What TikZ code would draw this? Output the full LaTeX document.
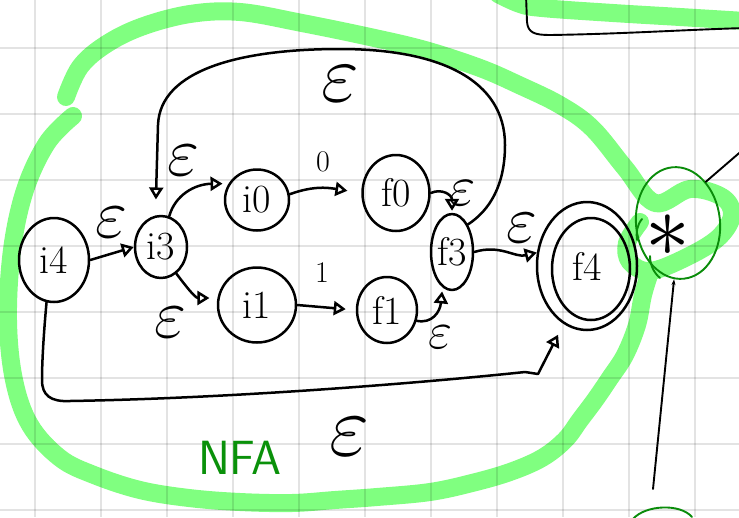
\documentclass[tikz,border=0pt]{standalone}
\usetikzlibrary{arrows.meta,shapes.geometric}
\definecolor{hlgreen}{RGB}{128,255,128}
\definecolor{penGreen}{RGB}{10,145,10}
\definecolor{ringGreen}{RGB}{10,140,10}

\begin{document}
\begin{tikzpicture}[x=1pt,y=-1pt,
  ink/.style={line width=2.5pt, black, line cap=round, line join=round},
  state/.style={ellipse, draw, ink, inner sep=0pt, font=\fontsize{40}{40}\selectfont},
  arr/.style={ink, -{Triangle[open, length=12pt, width=14pt]}},
  eps/.style={inner sep=0pt, font=\Huge},
  lbl/.style={inner sep=0pt, font=\fontsize{30}{30}\selectfont},
  hl/.style={line width=18pt, hlgreen, line cap=round, line join=round},
  gridline/.style={line width=1.5pt, black, opacity=0.11},
  pen/.style={line width=1.9pt, ringGreen, line cap=round, line join=round},
]
\useasboundingbox (0,0) rectangle (739,517);
\fill[white] (0,0) rectangle (739,517);
\begin{scope}
\clip (0,0) rectangle (739,517);

% highlighter strokes
\draw[hl] plot[smooth, tension=0.6] coordinates {(66,97) (80,67) (105,45) (141,27) (190,14) (240,12) (302,23) (370,37) (425,50) (480,68) (519,85) (560,105) (592,128) (625,168) (655,203) (690,189) (722,197) (732,215) (718,238) (685,258) (650,271) (630,262) (627,243) (640,222)};
\draw[hl] plot[smooth, tension=0.6] coordinates {(73,116) (47,143) (25,190) (12,250) (8,320) (14,380) (30,425) (60,458) (94,475) (140,490) (189,498) (240,502) (292,503) (335,500) (377,497) (430,492) (472,483) (510,472) (542,458) (565,440) (580,420) (595,400) (610,378) (625,355) (637,325) (643,295) (650,272)};
\draw[hl] plot[smooth, tension=0.6] coordinates {(498,-6) (520,4) (542,8) (613,13) (680,17) (745,21)};

% squared paper
\foreach \gx in {35,101,167,233,299,365,431,497,563,629,695}
  \draw[gridline] (\gx,0) -- (\gx,517);
\foreach \gy in {48,114,180,246,312,378,444,510}
  \draw[gridline] (0,\gy) -- (739,\gy);

% states
\node[state, minimum width=70pt, minimum height=84pt] (i4) at (54,260) {i4};
\node[state, minimum width=52pt, minimum height=62pt, inner xsep=-3pt] (i3) at (161,247) {i3};
\node[state, minimum width=64pt, minimum height=61pt] (i0) at (257,200) {i0};
\node[state, minimum width=78pt, minimum height=75pt] (i1) at (257,305) {i1};
\node[state, minimum width=67pt, minimum height=76pt] (f0) at (396,193) {f0};
\node[state, minimum width=60pt, minimum height=66pt] (f1) at (387,310) {f1};
\node[state, minimum width=42pt, minimum height=76pt, inner xsep=-5pt] (f3) at (452,252) {f3};
\node[state, minimum width=100pt, minimum height=128pt] (f4) at (587,266) {f4};
\node[ellipse, draw, ink, minimum width=78pt, minimum height=102pt] (f4in) at (591,269) {};

% transitions
\draw[arr] (i4.east) -- (i3.west);
\draw[arr, shorten >=6pt] (i3.75) .. controls (175,195) and (195,184) .. (i0.150);
\draw[arr, shorten >=8pt] (i3.-60) .. controls (185,285) and (195,298) .. (i1.170);
\draw[arr, shorten >=14pt] (i0.10) .. controls (315,185) and (330,188) .. (f0.180);
\draw[arr, shorten >=10pt] (i1.east) -- (f1.west);
\draw[arr, shorten >=2pt] (f0.east) .. controls (442,188) and (452,195) .. (f3.north);
\draw[arr, shorten >=4pt] (f1.-20) .. controls (432,324) and (440,312) .. (f3.-105);
\draw[arr] (f3.east) .. controls (500,244) and (515,258) .. (f4.165);
\draw[arr, shorten >=16pt] (f3.60) .. controls (490,210) and (505,185) .. (505,145)
  .. controls (505,80) and (440,49) .. (340,49)
  .. controls (240,49) and (160,70) .. (158,125) -- (i3.100);
\draw[arr, shorten >=12pt] (i4.-100) .. controls (44,330) and (42,360) .. (42,380)
  .. controls (42,395) and (50,402) .. (70,401)
  .. controls (250,398) and (450,380) .. (525,372) -- (538,374) -- (f4.-112);

% transition labels
\node[eps, scale=3.3] (eTop) at (340,84) {$\varepsilon$};
\node[eps, scale=2.8] (eA) at (111,222) {$\varepsilon$};
\node[eps, scale=2.8] (eB) at (183,160) {$\varepsilon$};
\node[eps, scale=2.8] (eC) at (170,322) {$\varepsilon$};
\node[lbl] (lZero) at (323,162) {0};
\node[lbl] (lOne) at (322,273) {1};
\node[eps, scale=2.3] (eD) at (463,193) {$\varepsilon$};
\node[eps, scale=2.1] (eE) at (440,337) {$\varepsilon$};
\node[eps, scale=2.7] (eF) at (522,228) {$\varepsilon$};
\node[eps, scale=3.5] (eBot) at (349,437) {$\varepsilon$};
\node[inner sep=0pt, text=penGreen, font=\sffamily\fontsize{48}{48}\selectfont] (nfa) at (240,458) {NFA};

% star with its ring
\node[ellipse, pen, draw, minimum width=84pt, minimum height=112pt, inner sep=0pt, rotate=6] (ring) at (678,223) {};
\draw[pen] (642,219) .. controls (637,225) and (636,232) .. (637,240);
\draw[pen] (650,256) .. controls (650,265) and (654,273) .. (660,278);
\node[inner sep=0pt, font=\Huge, scale=3.6] (star) at (668,236) {$\ast$};
\coordinate (offR) at (745,148);
\coordinate (botc) at (653,489);
\draw[ink, line width=1.9pt] (ring.50) -- (offR);
\draw[ink, line width=1.9pt, -{Stealth[length=6pt, width=4pt]}] (botc) -- (ring.-100);
\draw[pen] (633,519) .. controls (645,505) and (680,503) .. (692,517);

% neighbouring figure at the top edge
\draw[ink, line width=1.9pt] (526,-5) -- (527,22) .. controls (528,33) and (535,35) .. (550,35)
  .. controls (620,34) and (680,30) .. (745,28);
\end{scope}
\end{tikzpicture}
\end{document}
